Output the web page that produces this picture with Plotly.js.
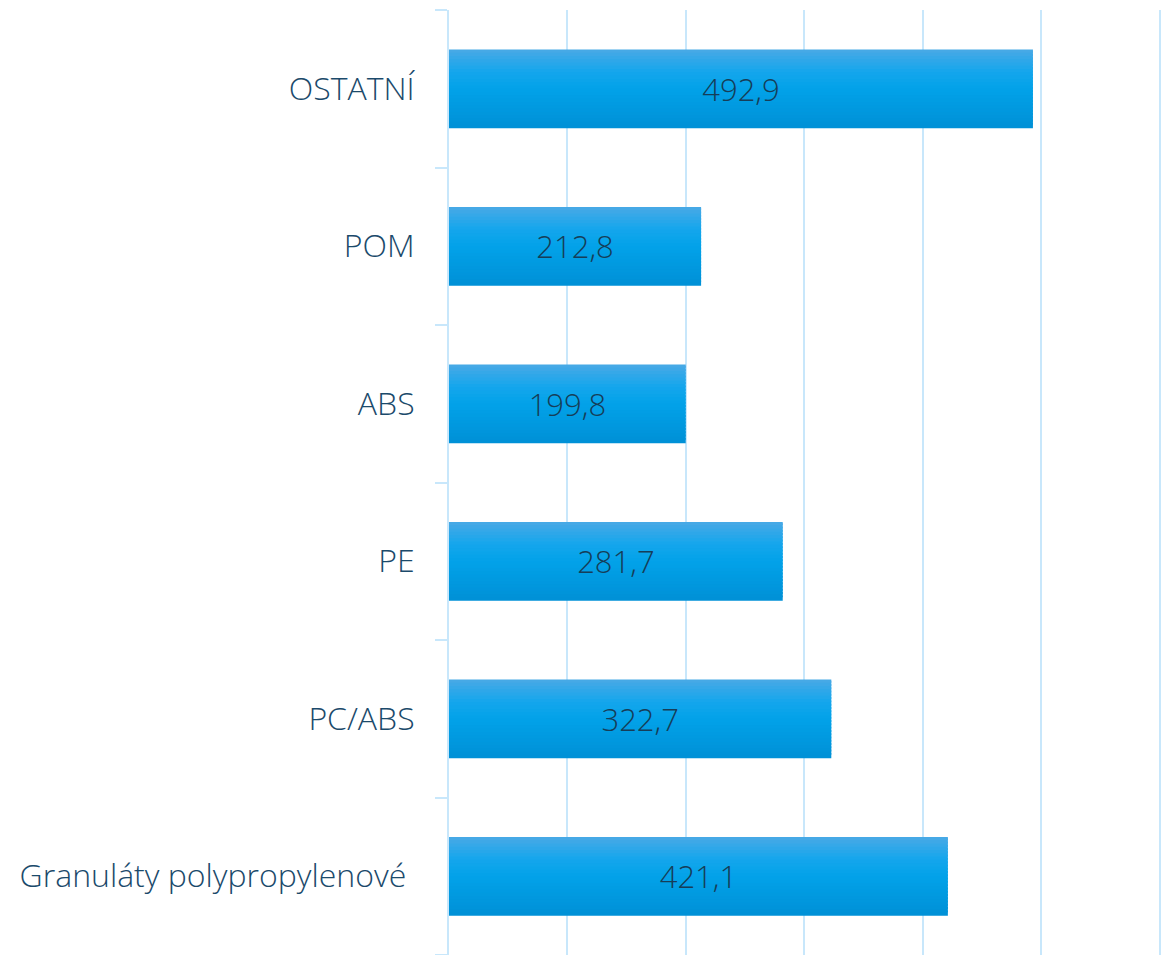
<!DOCTYPE html>
<html>
<head>
<meta charset="utf-8">
<script src="https://cdn.plot.ly/plotly-3.0.1.min.js"></script>
<style>html,body{margin:0;padding:0;background:#fff;}#chart{width:1164px;height:955px;}</style>
</head>
<body>
<div id="chart"></div>
<script>
// Data
var categories = ['Granuláty polypropylenové\u00a0', 'PC/ABS', 'PE', 'ABS', 'POM', 'OSTATNÍ'];
var values = [421.1, 322.7, 281.7, 199.8, 212.8, 492.9];

// Style: vertical gradient stops (bottom -> top)
function hex(c){return [parseInt(c.substr(1,2),16),parseInt(c.substr(3,2),16),parseInt(c.substr(5,2),16)];}
var stops = [[0,'#0090d6'],[0.5,'#02a2e9'],[0.72,'#15a6ec'],[1,'#4aa9e5']];
function colorAt(t){
  for(var k=0;k<stops.length-1;k++){
    if(t>=stops[k][0] && t<=stops[k+1][0]){
      var a=hex(stops[k][1]), b=hex(stops[k+1][1]);
      var f=(t-stops[k][0])/(stops[k+1][0]-stops[k][0]);
      return 'rgb('+[0,1,2].map(function(j){return Math.round(a[j]+(b[j]-a[j])*f);}).join(',')+')';
    }
  }
  return stops[stops.length-1][1];
}
var N = 24, barW = 0.5, step = barW/N;
var traces = [];
for (var i=0;i<N;i++){
  var w = (i===N-1)? step : step*1.6;
  traces.push({
    type:'bar', orientation:'h', x: values, y: categories,
    width: w, offset: -barW/2 + i*step,
    marker:{color: colorAt((i+0.5)/N), line:{width:0}},
    hoverinfo:'skip', showlegend:false
  });
}
traces.push({
  type:'bar', orientation:'h', x: values, y: categories,
  width: barW, offset: -barW/2,
  marker:{color:'rgba(0,0,0,0)', line:{width:0}},
  texttemplate:'%{x:.1f}', textposition:'inside', insidetextanchor:'middle',
  constraintext:'none',
  insidetextfont:{family:'Open Sans', size:31, color:'#163d58', weight:300},
  hoverinfo:'x+y', showlegend:false
});

var layout = {
  width:1164, height:955,
  margin:{l:449, r:3, t:10, b:0},
  barmode:'overlay',
  separators:', ',
  paper_bgcolor:'#ffffff', plot_bgcolor:'#ffffff',
  xaxis:{range:[0,601], dtick:100, tick0:0, showgrid:true, gridcolor:'#c8e7fb', gridwidth:2,
         zeroline:false, showticklabels:false, ticks:'', showline:false, fixedrange:true},
  yaxis:{type:'category', showline:true, linecolor:'#c8e7fb', linewidth:2,
         ticks:'outside', tickson:'boundaries', ticklen:12, tickwidth:2, tickcolor:'#c8e7fb',
         ticklabelstandoff:26,
         tickfont:{family:'Open Sans', size:32, color:'#1b4a6b', weight:300},
         showgrid:false, zeroline:false, fixedrange:true}
};
Plotly.newPlot('chart', traces, layout, {displayModeBar:false, staticPlot:true});
</script>
</body>
</html>
